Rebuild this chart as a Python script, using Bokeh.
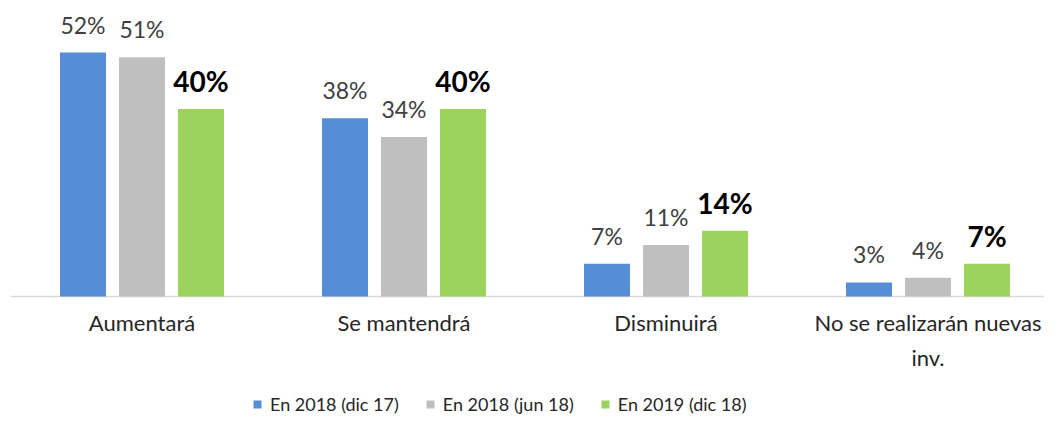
from bokeh.plotting import figure
from bokeh.models import Range1d, ColumnDataSource, Legend, LegendItem
from bokeh.embed import file_html
from bokeh.resources import INLINE
from bokeh.core.properties import value

categories = ["Aumentará", "Se mantendrá", "Disminuirá", "No se realizarán nuevas\ninv."]
series_names = ["En 2018 (dic 17)", "En 2018 (jun 18)", "En 2019 (dic 18)"]
dic17 = [52, 38, 7, 3]
jun18 = [51, 34, 11, 4]
dic18 = [40, 40, 14, 7]
colors = ["#558ED5", "#BFBFBF", "#9BD35E"]

W, H = 1044, 416
PX_PER_CAT = 262.0
PX_PER_PCT = 4.69
x0 = -141.5 / PX_PER_CAT
y0 = -120.0 / PX_PER_PCT

p = figure(width=W, height=H, output_backend="svg", toolbar_location=None,
           x_range=Range1d(x0, x0 + W / PX_PER_CAT),
           y_range=Range1d(y0, y0 + H / PX_PER_PCT),
           min_border=0, outline_line_color=None)
p.xaxis.visible = False
p.yaxis.visible = False
p.grid.visible = False
p.background_fill_color = "white"
p.border_fill_color = "white"

FONT = value("Lato")
offsets = [-59.0 / PX_PER_CAT, 0.0, 59.0 / PX_PER_CAT]
bw = 46.0 / PX_PER_CAT
idx = list(range(len(categories)))

# baseline axis
p.segment(x0=[x0 + 10.0 / PX_PER_CAT], y0=[0], x1=[x0 + W / PX_PER_CAT], y1=[0],
          line_color="#D9D9D9", line_width=1.3)

renderers = []
for k, (vals, col) in enumerate(zip([dic17, jun18, dic18], colors)):
    xs = [i + offsets[k] for i in idx]
    src = ColumnDataSource(dict(x=xs, top=vals, lab=[f"{v}%" for v in vals]))
    r = p.vbar(x="x", top="top", bottom=0, width=bw, source=src,
               fill_color=col, line_color=None)
    renderers.append(r)
    bold = (k == 2)
    p.text(x="x", y="top", text="lab", source=src, text_align="center",
           text_baseline="alphabetic", y_offset=-28,
           text_font=FONT, text_font_size="28px" if bold else "23px",
           text_font_style="bold" if bold else "normal",
           text_color="#000000" if bold else "#404040")

csrc = ColumnDataSource(dict(x=idx, y=[0] * len(idx), t=categories))
p.text(x="x", y="y", text="t", source=csrc, text_align="center",
       text_baseline="top", y_offset=12, text_font=FONT, text_font_size="22px",
       text_color="#262626", text_line_height=1.3)

legend = Legend(items=[LegendItem(label=n, renderers=[r]) for n, r in zip(series_names, renderers)],
                orientation="horizontal", location=(252, 1),
                glyph_width=10, glyph_height=10, label_standoff=8, spacing=26,
                padding=0, margin=0, border_line_color=None, background_fill_alpha=0,
                label_text_font="Lato", label_text_font_size="18px",
                label_text_color="#262626")
p.add_layout(legend, "center")

open("out.html", "w").write(file_html(p, INLINE))
